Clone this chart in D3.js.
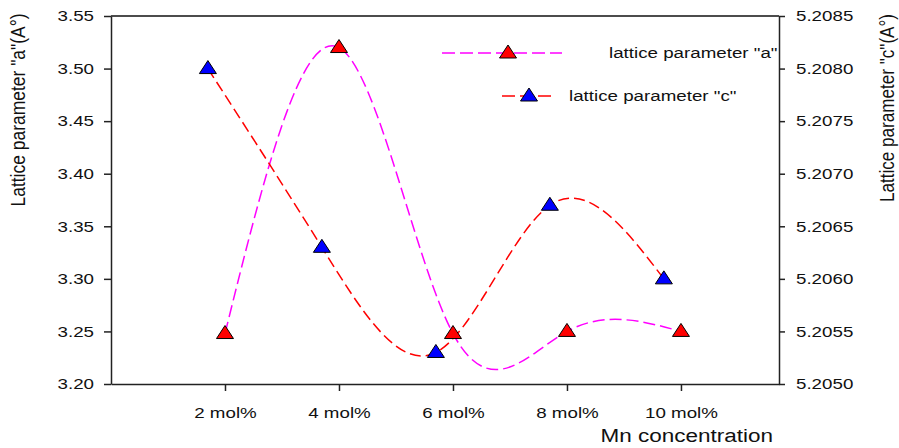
<!DOCTYPE html>
<html>
<head>
<meta charset="utf-8">
<script src="https://cdn.jsdelivr.net/npm/d3@7"></script>
<style>
  body { margin: 0; background: #fff; }
  text { font-family: "Liberation Sans", Arial, sans-serif; fill: #111; }
</style>
</head>
<body>
<div id="root"></div>
<script>
// values
const concentrations = [2, 4, 6, 8, 10];
const concLabels = ["2 mol%", "4 mol%", "6 mol%", "8 mol%", "10 mol%"];
const latticeA = [3.248, 3.52, 3.248, 3.25, 3.25];
// the "c" series is drawn slightly to the left of each category
const concC = [1.7, 3.7, 5.7, 7.7, 9.7];
const latticeC = [5.2080, 5.2063, 5.2053, 5.2067, 5.2060];
const ticksA = [3.20, 3.25, 3.30, 3.35, 3.40, 3.45, 3.50, 3.55];
const ticksC = [5.2050, 5.2055, 5.2060, 5.2065, 5.2070, 5.2075, 5.2080, 5.2085];

const W = 899, H = 448;
const SX = 1.25; // the original picture is stretched horizontally
const margin = { top: 16, right: 120, bottom: 64, left: 111 };

const svg = d3.select("#root").append("svg").attr("width", W).attr("height", H);

const x = d3.scaleLinear().domain([0, 11.72]).range([margin.left, W - margin.right]);
const yA = d3.scaleLinear().domain([3.20, 3.55]).range([H - margin.bottom, margin.top]);
const yC = d3.scaleLinear().domain([5.2050, 5.2085]).range([H - margin.bottom, margin.top]);

const stretch = (sel, dx) => {
	sel.attr("transform", `scale(${SX},1)`).attr("x", dx / SX).style("font-size", "15px");
};

// top frame line
svg.append("line")
	.attr("x1", x.range()[0]).attr("x2", x.range()[1])
	.attr("y1", margin.top).attr("y2", margin.top)
	.attr("stroke", "#111").attr("stroke-width", 1.5);

// left axis
const gA = svg.append("g")
	.attr("transform", `translate(${margin.left},0)`)
	.call(d3.axisLeft(yA).tickValues(ticksA).tickFormat(d3.format(".2f")).tickSize(7).tickSizeOuter(0));
gA.selectAll("text").call(stretch, -17);

// right axis
const gC = svg.append("g")
	.attr("transform", `translate(${W - margin.right},0)`)
	.call(d3.axisRight(yC).tickValues(ticksC).tickFormat(d3.format(".4f")).tickSize(6).tickSizeOuter(0));
gC.selectAll("text").call(stretch, 17);

// bottom axis
const gX = svg.append("g")
	.attr("transform", `translate(0,${H - margin.bottom})`)
	.call(d3.axisBottom(x).tickValues(concentrations).tickFormat((d, i) => concLabels[i]).tickSize(7).tickSizeOuter(0));
gX.selectAll("text").call(stretch, 0).attr("dy", "1.6em");

svg.selectAll(".domain, .tick line").attr("stroke", "#222").attr("stroke-width", 1.5);

// axis titles
svg.append("text")
	.attr("transform", `translate(${x.range()[1] - 6},${H - 6}) scale(${SX},1)`)
	.attr("text-anchor", "end")
	.style("font-size", "18px")
	.text("Mn concentration");

svg.append("text")
	.attr("transform", `translate(25,110) scale(${SX},1) rotate(-90)`)
	.attr("text-anchor", "middle")
	.style("font-size", "16px")
	.attr("textLength", 193).attr("lengthAdjust", "spacingAndGlyphs")
	.text('Lattice parameter "a"(A°)');

svg.append("text")
	.attr("transform", `translate(894,108) scale(${SX},1) rotate(-90)`)
	.attr("text-anchor", "middle")
	.style("font-size", "16px")
	.attr("textLength", 188).attr("lengthAdjust", "spacingAndGlyphs")
	.text('Lattice parameter "c"(A°)');

// curves
const lineA = d3.line().x((d, i) => x(concentrations[i])).y(d => yA(d)).curve(d3.curveNatural);
const lineC = d3.line().x((d, i) => x(concC[i])).y(d => yC(d)).curve(d3.curveNatural);

svg.append("path").attr("d", lineA(latticeA))
	.attr("fill", "none").attr("stroke", "#ff00ff").attr("stroke-width", 1.5)
	.attr("stroke-dasharray", "12,5");
svg.append("path").attr("d", lineC(latticeC))
	.attr("fill", "none").attr("stroke", "#ff0000").attr("stroke-width", 1.5)
	.attr("stroke-dasharray", "11,5");

const tri = "M0,-8L8.5,5L-8.5,5Z";

svg.append("g").selectAll("path").data(latticeA).enter().append("path")
	.attr("d", tri)
	.attr("transform", (d, i) => `translate(${x(concentrations[i])},${yA(d)})`)
	.attr("fill", "#ff0000").attr("stroke", "#000").attr("stroke-width", 1);

svg.append("g").selectAll("path").data(latticeC).enter().append("path")
	.attr("d", tri)
	.attr("transform", (d, i) => `translate(${x(concC[i])},${yC(d)})`)
	.attr("fill", "#0000ff").attr("stroke", "#000").attr("stroke-width", 1);

// legend
const legendItems = [
	{ label: 'lattice parameter "a"', stroke: "#ff00ff", dash: "13,5", fill: "#ff0000", x1: 442, x2: 562, mx: 508, tx: 609, y: 53 },
	{ label: 'lattice parameter "c"', stroke: "#ff0000", dash: "13,5", fill: "#0000ff", x1: 502, x2: 551, mx: 529, tx: 569, y: 96 }
];
const lg = svg.append("g").selectAll("g").data(legendItems).enter().append("g");
lg.append("line")
	.attr("x1", d => d.x1).attr("x2", d => d.x2).attr("y1", d => d.y).attr("y2", d => d.y)
	.attr("stroke", d => d.stroke).attr("stroke-width", 1.5).attr("stroke-dasharray", d => d.dash);
lg.append("path").attr("d", tri)
	.attr("transform", d => `translate(${d.mx},${d.y})`)
	.attr("fill", d => d.fill).attr("stroke", "#000").attr("stroke-width", 1);
lg.append("text")
	.attr("transform", d => `translate(${d.tx},${d.y + 5}) scale(${SX},1)`)
	.style("font-size", "15px")
	.text(d => d.label);
</script>
</body>
</html>
